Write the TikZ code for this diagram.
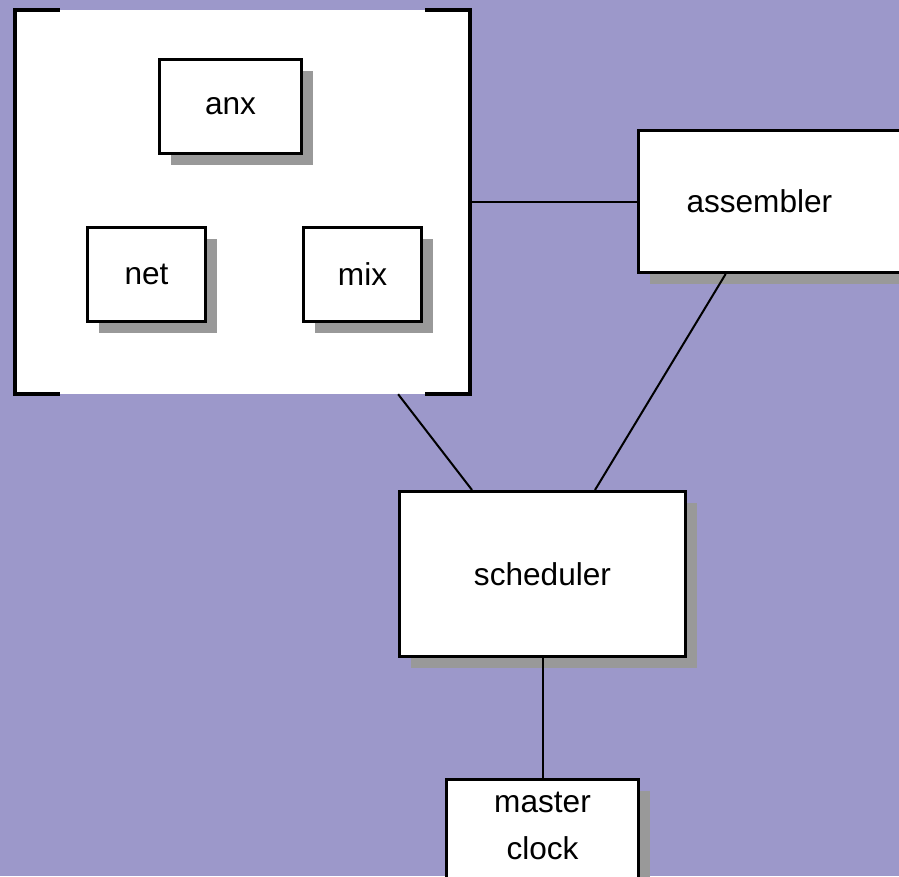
\documentclass[tikz,border=0pt]{standalone}
\usepackage{fontspec}
\setmainfont{Liberation Sans}
\usetikzlibrary{shadows}

\definecolor{bgpurple}{RGB}{156,152,202}
\definecolor{shadowgray}{RGB}{153,153,153}

\begin{document}
\begin{tikzpicture}[x=1pt, y=-1pt,
	  font=\fontsize{31.6}{47}\selectfont,
	  block/.style={draw, line width=3pt, fill=white, inner sep=0pt,
	    drop shadow={shadow xshift=11pt, shadow yshift=-11pt, fill=shadowgray, opacity=1}},
	  bracket/.style={line width=4pt},
	  link/.style={line width=2pt},
	]
	
	% Background
	\useasboundingbox (0,0) rectangle (899,876);
	\clip (0,0) rectangle (899,876);
	\fill[bgpurple] (0,0) rectangle (899,876);
	
	% Subsystem frame
	\node[fill=white, inner sep=0pt, minimum width=455pt, minimum height=384pt] (sys) at (242.5,202) {};
	\draw[bracket] ([xshift=45pt]sys.north west) -- (sys.north west) -- (sys.south west) -- ([xshift=45pt]sys.south west);
	\draw[bracket] ([xshift=-45pt]sys.north east) -- (sys.north east) -- (sys.south east) -- ([xshift=-45pt]sys.south east);
	
	% Blocks inside the frame
	\node[block, minimum width=142pt, minimum height=94pt] (anx) at (230.5,106.5) {anx};
	\node[block, minimum width=118pt, minimum height=94pt] (net) at (146.5,274.5) {net};
	\node[block, minimum width=118pt, minimum height=94pt] (mix) at (362.5,274.5) {mix};
	
	% Assembler
	\node[block, anchor=west, text width=200pt, align=left, inner xsep=48pt, minimum height=142pt] (asm) at (637,201.5) {assembler};
	
	% Scheduler
	\node[block, minimum width=286pt, minimum height=165pt] (sched) at (542.5,574) {scheduler};
	
	% Master clock
	\node[block, anchor=north, align=center, minimum width=192pt, inner ysep=13pt, text depth=45pt] (clk) at (542.5,778) {master\\clock};
	
	% Connections
	\draw[link] (sys.east) -- (sys.east -| asm.west);
	\draw[link] (sys.-51.3) -- (sched.130);
	\draw[link] (asm.230.7) -- (sched.58);
	\draw[link] (sched.south) -- (clk.north);
	
	\end{tikzpicture}
\end{document}
